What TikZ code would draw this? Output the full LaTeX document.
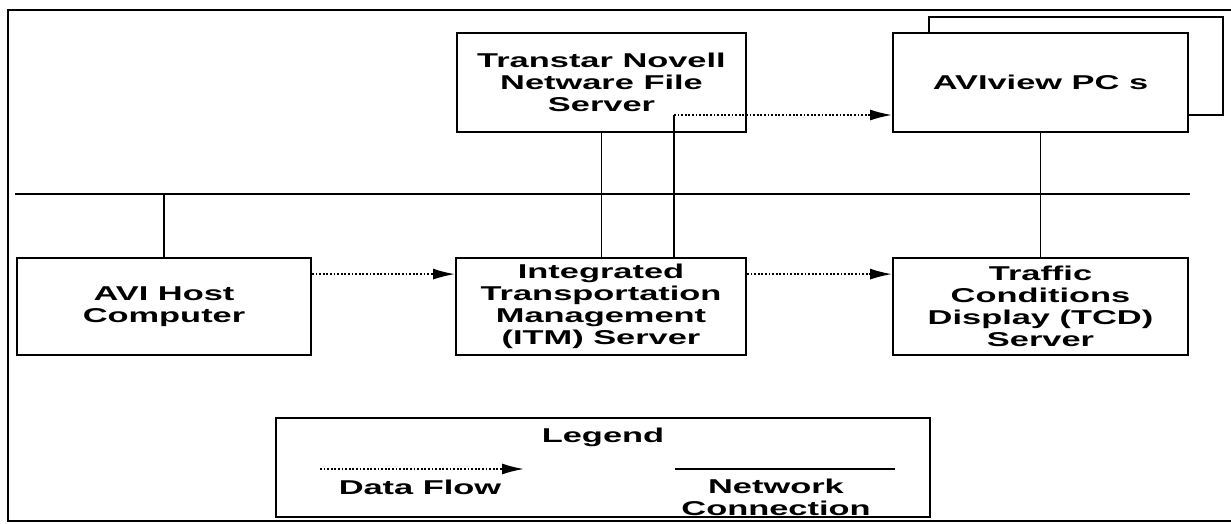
\documentclass[tikz,border=0pt]{standalone}
\usepackage{fontspec}
\newfontfamily\widefont[FakeStretch=1.72]{Liberation Sans Bold}
\usetikzlibrary{arrows.meta,calc}
\tikzset{
  box/.style={draw, line width=1.8pt, fill=white, align=center, inner sep=0pt,
    font=\widefont\fontsize{20}{22}\selectfont},
  net/.style={line width=1.1pt},
  flow/.style={line width=1.8pt, dash pattern=on 1.8pt off 1.8pt,
    -{Latex[length=22pt,width=11pt]}},
  lbl/.style={align=center, inner sep=0pt, font=\widefont\fontsize{20}{22}\selectfont}
}
\begin{document}
\begin{tikzpicture}[x=1pt,y=-1pt]
\useasboundingbox (0,0) rectangle (1231,523);
% outer frame
\draw[line width=2pt] (1231,10) -- (8,10) -- (8,521) -- (1231,521);
% AVIview stacked boxes
\node[box, minimum width=294pt, minimum height=98pt] (avback) at (1076,66) {};
\node[box, minimum width=295pt, minimum height=99pt] (avfront) at (1040.5,82.5) {AVIview PC s};
% Transtar
\node[box, minimum width=289pt, minimum height=99pt] (trans) at (601.5,82.5) {Transtar Novell\\Netware File\\Server};
% lower row
\node[box, minimum width=294pt, minimum height=97pt] (avi) at (164,306.5) {AVI Host\\Computer};
\node[box, minimum width=290pt, minimum height=97pt] (itm) at (601,306.5) {Integrated\\Transportation\\Management\\(ITM) Server};
\node[box, minimum width=295pt, minimum height=97pt] (tcd) at (1040.5,306.5) {Traffic\\Conditions\\Display (TCD)\\Server};
% bus
\coordinate (busL) at (15,194);
\coordinate (busR) at (1190,194);
\draw[line width=1.8pt] (busL) -- (busR);
% network connections
\draw[net] (avi.north) -- (avi.north |- busL);
\draw[net] (trans.south) -- (trans.south |- itm.north);
\draw[net] (avfront.south) -- (avfront.south |- tcd.north);
% data flows
\coordinate (df) at (674,115);
\draw[net] (itm.north -| df) -- (df);
\draw[flow] (df) -- (df -| avfront.west);
\draw[flow] ($(avi.north east)+(0,17)$) -- ($(itm.north west)+(0,17)$);
\draw[flow] ($(itm.north east)+(0,17)$) -- ($(tcd.north west)+(0,17)$);
% legend
\node[box, line width=2.2pt, minimum width=654pt, minimum height=99pt] (leg) at (603,467.5) {};
\node[lbl] (legt) at (603,437) {Legend};
\coordinate (dfa) at (320,469);
\coordinate (dfb) at (524,469);
\draw[flow] (dfa) -- (dfb);
\node[lbl] (dft) at (420,487) {Data Flow};
\coordinate (nca) at (675,469);
\coordinate (ncb) at (895,469);
\draw[line width=1.8pt] (nca) -- (ncb);
\node[lbl] (nct) at (776,497) {Network\\Connection};
\end{tikzpicture}
\end{document}
